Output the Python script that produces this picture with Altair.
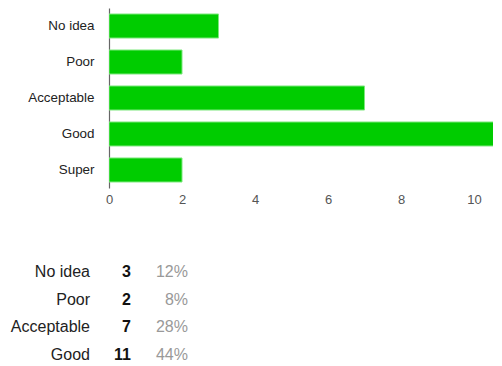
import altair as alt
import pandas as pd

categories = ["No idea", "Poor", "Acceptable", "Good", "Super"]
counts = [3, 2, 7, 11, 2]
x_ticks = [0, 2, 4, 6, 8, 10]
table_rows_visible = 4  # the reference shows only the first four table rows

total = sum(counts)
df = pd.DataFrame({"category": categories, "count": counts})
df["pct"] = [f"{round(100 * c / total)}%" for c in counts]
tdf = df.iloc[:table_rows_visible]

FONT = "Liberation Sans"

bars = alt.Chart(df).mark_bar(
    color="#00cc00", stroke="#7de87d", strokeWidth=1, clip=True
).encode(
    y=alt.Y("category:N", sort=categories, title=None,
            scale=alt.Scale(paddingInner=0.333, paddingOuter=0.167),
            axis=alt.Axis(domain=True, domainColor="#666666", domainWidth=1.2,
                          ticks=False, grid=False, labelPadding=15,
                          labelFont=FONT, labelFontSize=13.4, labelColor="#222222")),
    x=alt.X("count:Q", title=None,
            scale=alt.Scale(domain=[0, 10.52], nice=False),
            axis=alt.Axis(values=x_ticks, domain=False, ticks=False, grid=False,
                          labelPadding=5, labelFont=FONT, labelFontSize=13,
                          labelColor="#555555", labelFlush=False)),
).properties(width=384, height=180)

base = alt.Chart(tdf).encode(
    y=alt.Y("category:N", sort=categories, title=None, axis=None,
            scale=alt.Scale(paddingInner=0, paddingOuter=0)),
)
lab = base.mark_text(align="right", baseline="middle", font=FONT, fontSize=16,
                     color="#222222").encode(x=alt.value(-19), text="category:N")
cnt = base.mark_text(align="right", baseline="middle", font=FONT, fontSize=16,
                     fontWeight="bold", color="#111111").encode(x=alt.value(22), text="count:Q")
pct = base.mark_text(align="right", baseline="middle", font=FONT, fontSize=16,
                     color="#999999").encode(x=alt.value(79), text="pct:N")
table = alt.layer(lab, cnt, pct).properties(width=384, height=111)

chart = alt.vconcat(bars, table, spacing=52).configure_view(stroke=None).properties(
    padding={"left": 2, "top": 0, "right": 0, "bottom": 0}
)

chart.save("out.html", embed_options={"renderer": "svg", "actions": False})
